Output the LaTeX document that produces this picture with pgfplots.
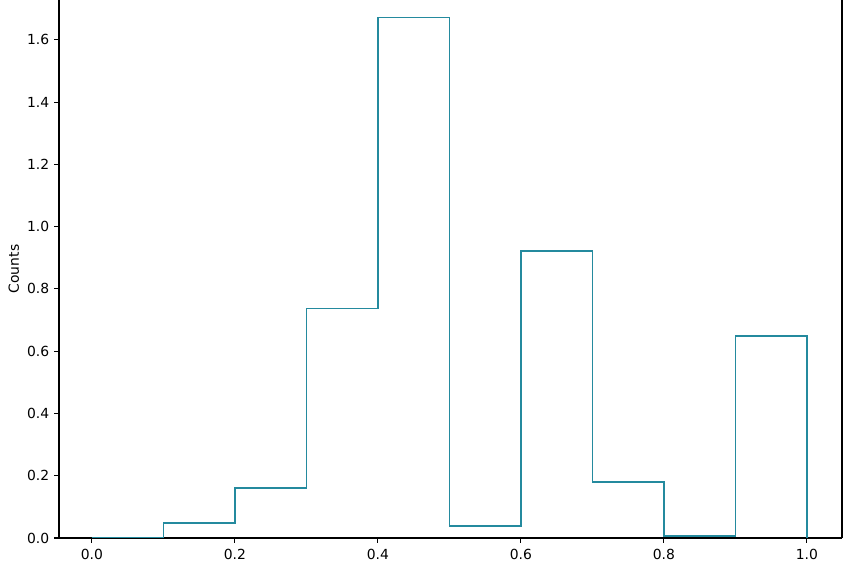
\documentclass[border=0pt]{standalone}
\usepackage{pgfplots}
\pgfplotsset{compat=1.18}
\usepackage{fontspec}
\setmainfont{DejaVu Sans}
\definecolor{histc}{RGB}{36,138,158}
\begin{document}
\begin{tikzpicture}
\begin{axis}[
  scale only axis, width=563.8pt, height=387.4pt,
  xmin=-0.046, xmax=1.049, ymin=0, ymax=1.728,
  axis x line*=bottom, axis y line*=left,
  axis line style={line width=0.8pt, black},
  every tick/.style={line width=0.8pt, black},
  tick align=outside, major tick length=3.5pt,
  xtick={0,0.2,0.4,0.6,0.8,1.0},
  ytick={0,0.2,0.4,0.6,0.8,1.0,1.2,1.4,1.6},
  minor tick num=0,
  /pgf/number format/.cd, fixed, fixed zerofill, precision=1, assume math mode=true,
  /pgfplots/.cd,
  ticklabel style={font=\fontsize{10}{12}\selectfont},
  xticklabel style={yshift=-1pt},
  ylabel={Counts},
  ylabel style={font=\fontsize{10}{12}\selectfont, at={(axis description cs:-0.0576,0.5)}, anchor=center},
]
\addplot[const plot, histc, line width=0.95pt] coordinates {
  (0.0,0) (0.1,0.048) (0.2,0.161) (0.3,0.736) (0.4,1.671)
  (0.5,0.038) (0.6,0.922) (0.7,0.180) (0.8,0.006) (0.9,0.649) (1.0,0)
};
\end{axis}
\draw[line width=0.8pt, black] (current axis.south east) -- (current axis.north east);
\pgfresetboundingbox
\path[use as bounding box] ([xshift=-42.5pt,yshift=-16.6pt]current axis.south west) rectangle ([xshift=16.6pt]current axis.north east);
\end{tikzpicture}
\end{document}
